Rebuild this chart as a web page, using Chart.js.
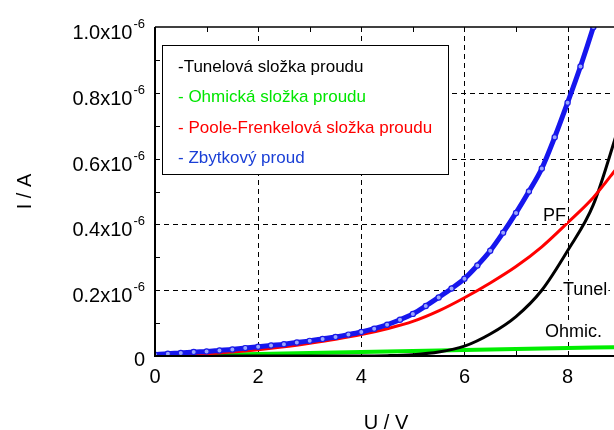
<!DOCTYPE html>
<html>
<head>
<meta charset="utf-8">
<script src="https://cdn.jsdelivr.net/npm/chart.js@4.4.1/dist/chart.umd.min.js"></script>
<style>
  html, body { margin: 0; padding: 0; background: #fff; }
  canvas { display: block; }
</style>
</head>
<body>
<canvas id="chart" width="614" height="430"></canvas>
<script>
// currents are in units of 1e-6 A
const residualU = [0, 0.25, 0.5, 0.75, 1, 1.25, 1.5, 1.75, 2, 2.25, 2.5, 2.75, 3, 3.25, 3.5, 3.75, 4, 4.25, 4.5, 4.75, 5, 5.25, 5.5, 5.75, 6, 6.25, 6.5, 6.75, 7, 7.25, 7.5, 7.75, 8, 8.25, 8.5, 8.75];
const residualI = [0.004, 0.007, 0.009, 0.012, 0.014, 0.017, 0.020, 0.024, 0.028, 0.032, 0.036, 0.041, 0.046, 0.052, 0.058, 0.065, 0.073, 0.083, 0.095, 0.11, 0.128, 0.152, 0.178, 0.205, 0.235, 0.275, 0.32, 0.375, 0.435, 0.5, 0.57, 0.665, 0.77, 0.88, 1.0, 1.13];

const modelU = [0, 0.5, 1, 1.5, 2, 2.5, 3, 3.5, 4, 4.5, 5, 5.5, 6, 6.5, 7, 7.5, 8, 8.5, 9];
const pooleI = [0, 0.003, 0.007, 0.012, 0.019, 0.028, 0.039, 0.051, 0.065, 0.083, 0.105, 0.137, 0.177, 0.222, 0.272, 0.332, 0.405, 0.482, 0.58];
const tunnelI = [0, 0, 0, 0, 0, 0, 0, 0, 0, 0.001, 0.004, 0.012, 0.03, 0.067, 0.12, 0.2, 0.32, 0.46, 0.70];
const ohmicI = [0, 0.0015, 0.003, 0.0045, 0.006, 0.0075, 0.009, 0.0105, 0.012, 0.0135, 0.015, 0.0165, 0.018, 0.0195, 0.021, 0.0225, 0.024, 0.0255, 0.027];

const seriesNames = ["-Tunelová složka proudu", "- Ohmická složka proudu", "- Poole-Frenkelová složka proudu", "- Zbytkový proud"];
const seriesColors = ["#000000", "#00e600", "#ff0000", "#1a3fd6"];
const curveLabels = ["PF", "Tunel", "Ohmic."];
const curveLabelPos = [[543, 221], [563, 295], [545, 337]];

const xTicks = [0, 2, 4, 6, 8];
const xMinor = [1, 3, 5, 7];
const yTicks = [0, 0.2, 0.4, 0.6, 0.8, 1.0];
const yTickText = ["0", "0.2x10", "0.4x10", "0.6x10", "0.8x10", "1.0x10"];
const yMinor = [0.1, 0.3, 0.5, 0.7, 0.9];
const xTitle = "U / V";
const yTitle = "I / A";

const FONT = "Liberation Sans, Arial, Helvetica, sans-serif";

const pts = (xs, ys) => xs.map((u, i) => ({ x: u, y: ys[i] }));

const decor = {
    id: "decor",
    beforeDatasetsDraw(chart) {
        const { ctx, chartArea: a, scales: { x, y } } = chart;
        ctx.save();
        ctx.strokeStyle = "#000";
        ctx.lineWidth = 1;
        ctx.setLineDash([5, 4]);
        for (const v of xTicks.slice(1)) {
            const px = Math.round(x.getPixelForValue(v)) + 0.5;
            ctx.beginPath(); ctx.moveTo(px, a.top); ctx.lineTo(px, a.bottom); ctx.stroke();
        }
        for (const v of yTicks.slice(1, -1)) {
            const py = Math.round(y.getPixelForValue(v)) + 0.5;
            ctx.beginPath(); ctx.moveTo(a.left, py); ctx.lineTo(a.right, py); ctx.stroke();
        }
        ctx.setLineDash([]);
        // minor ticks, inward
        for (const v of xMinor) {
            const px = Math.round(x.getPixelForValue(v)) + 0.5;
            ctx.beginPath(); ctx.moveTo(px, a.bottom); ctx.lineTo(px, a.bottom - 5); ctx.stroke();
            ctx.beginPath(); ctx.moveTo(px, a.top); ctx.lineTo(px, a.top + 5); ctx.stroke();
        }
        for (const v of yMinor) {
            const py = Math.round(y.getPixelForValue(v)) + 0.5;
            ctx.beginPath(); ctx.moveTo(a.left, py); ctx.lineTo(a.left + 5, py); ctx.stroke();
        }

        // legend box
        ctx.fillStyle = "#fff";
        ctx.fillRect(162, 45, 286, 129);
        ctx.strokeRect(162.5, 45.5, 286, 129);
        ctx.font = "17px " + FONT;
        ctx.textBaseline = "alphabetic";
        ctx.textAlign = "left";
        seriesNames.forEach((s, i) => {
            ctx.fillStyle = seriesColors[i];
            ctx.fillText(s, 178, 72 + i * 30.3);
        });
        ctx.restore();
    },
    afterDatasetsDraw(chart) {
        const { ctx, chartArea: a, scales: { x, y } } = chart;
        ctx.save();
        // frame
        ctx.strokeStyle = "#000";
        ctx.lineWidth = 2;
        ctx.beginPath();
        ctx.moveTo(a.left, a.top); ctx.lineTo(a.left, a.bottom); ctx.lineTo(a.right, a.bottom);
        ctx.stroke();
        ctx.lineWidth = 1.5;
        ctx.beginPath(); ctx.moveTo(a.left, a.top); ctx.lineTo(a.right, a.top); ctx.stroke();

        ctx.fillStyle = "#000";
        ctx.textBaseline = "alphabetic";
        // y tick labels
        yTicks.forEach((v, i) => {
            const py = y.getPixelForValue(v);
            if (i === 0) {
                ctx.font = "20px " + FONT;
                ctx.textAlign = "right";
                ctx.fillText(yTickText[i], 145, py + 10);
                return;
            }
            ctx.font = "13px " + FONT;
            ctx.textAlign = "right";
            ctx.fillText("-6", 145, py + 1);
            const supW = ctx.measureText("-6").width;
            ctx.font = "20px " + FONT;
            ctx.fillText(yTickText[i], 145 - supW - 1, py + 12);
        });
        // x tick labels
        ctx.font = "20px " + FONT;
        ctx.textAlign = "center";
        for (const v of xTicks) {
            ctx.fillText(String(v), x.getPixelForValue(v), 383);
        }
        // axis titles
        ctx.fillText(xTitle, 386, 429);
        ctx.save();
        ctx.translate(31, (a.top + a.bottom) / 2);
        ctx.rotate(-Math.PI / 2);
        ctx.fillText(yTitle, 0, 0);
        ctx.restore();

        // curve labels
        ctx.font = "18px " + FONT;
        ctx.textAlign = "left";
        curveLabels.forEach((s, i) => {
            const [lx, ly] = curveLabelPos[i];
            ctx.fillStyle = "#fff";
            ctx.fillRect(lx - 1, ly - 14, ctx.measureText(s).width + 2, 16);
            ctx.fillStyle = "#000";
            ctx.fillText(s, lx, ly);
        });
        ctx.restore();
    }
};

new Chart(document.getElementById("chart"), {
    type: "scatter",
    data: {
        datasets: [
            {
                label: seriesNames[3],
                data: pts(residualU, residualI),
                showLine: true,
                borderColor: "#1616ee",
                borderWidth: 5,
                pointRadius: 2.6,
                pointBorderWidth: 1.2,
                pointBorderColor: "#1a1ae6",
                pointBackgroundColor: "#9aa6ff",
                cubicInterpolationMode: "monotone",
                order: 1
            },
            {
                label: seriesNames[2],
                data: pts(modelU, pooleI),
                showLine: true,
                borderColor: "#ff0000",
                borderWidth: 3,
                pointRadius: 0,
                cubicInterpolationMode: "monotone",
                order: 2
            },
            {
                label: seriesNames[0],
                data: pts(modelU, tunnelI),
                showLine: true,
                borderColor: "#000000",
                borderWidth: 3,
                pointRadius: 0,
                cubicInterpolationMode: "monotone",
                order: 3
            },
            {
                label: seriesNames[1],
                data: pts(modelU, ohmicI),
                showLine: true,
                borderColor: "#00ee00",
                borderWidth: 4,
                pointRadius: 0,
                order: 4
            }
        ]
    },
    options: {
        responsive: false,
        devicePixelRatio: 1,
        animation: false,
        layout: { autoPadding: false, padding: { left: 155, top: 27, right: 0, bottom: 74 } },
        scales: {
            x: { type: "linear", min: 0, max: 8.9, display: false },
            y: { type: "linear", min: 0, max: 1.0, display: false }
        },
        plugins: {
            legend: { display: false },
            tooltip: { enabled: false }
        }
    },
    plugins: [decor]
});
</script>
</body>
</html>
